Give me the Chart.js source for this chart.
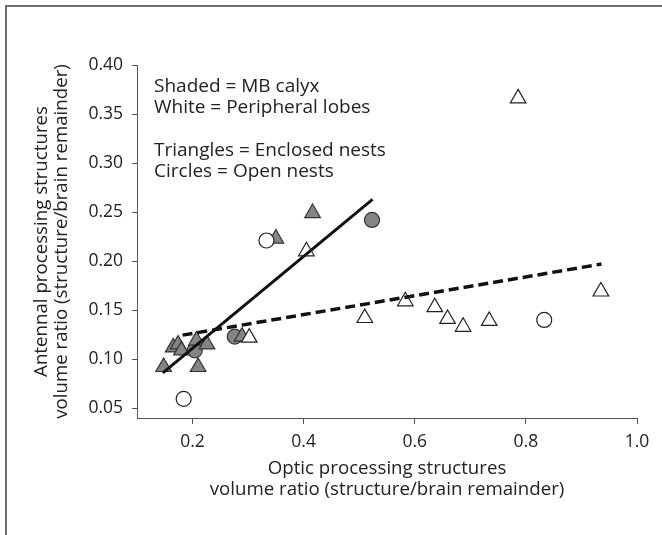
<!DOCTYPE html>
<html>
<head>
<meta charset="utf-8">
<script src="https://cdn.jsdelivr.net/npm/chart.js@4"></script>
<style>
  html, body { margin:0; padding:0; background:#fff; }
  #wrap { position:relative; width:662px; height:535px; }
  #frame { position:absolute; left:5px; top:5px; right:0; bottom:0; border-top:2px solid #6e6e6e; border-left:2px solid #6e6e6e; pointer-events:none; }
</style>
</head>
<body>
<div id="wrap">
  <canvas id="chart" width="662" height="535"></canvas>
  <div id="frame"></div>
</div>
<script>
// shaded = MB calyx, white = peripheral lobes; triangles = enclosed nests, circles = open nests
const shadedTriX = [0.148, 0.165, 0.174, 0.180, 0.207, 0.226, 0.210, 0.289, 0.350, 0.416];
const shadedTriY = [0.092, 0.112, 0.115, 0.109, 0.119, 0.115, 0.092, 0.123, 0.223, 0.249];
const shadedCircX = [0.204, 0.276, 0.523];
const shadedCircY = [0.109, 0.123, 0.242];
const whiteTriX = [0.302, 0.405, 0.510, 0.583, 0.636, 0.659, 0.687, 0.734, 0.786, 0.935];
const whiteTriY = [0.122, 0.210, 0.142, 0.159, 0.153, 0.141, 0.133, 0.139, 0.366, 0.169];
const whiteCircX = [0.184, 0.333, 0.833];
const whiteCircY = [0.0595, 0.221, 0.140];
// regression lines (end points)
const calyxFitX = [0.1465, 0.524];
const calyxFitY = [0.086, 0.263];
const lobesFitX = [0.182, 0.936];
const lobesFitY = [0.1245, 0.197];

const xTicks = [0.2, 0.4, 0.6, 0.8, 1.0];
const yTicks = [0.05, 0.10, 0.15, 0.20, 0.25, 0.30, 0.35, 0.40];
const notes = ['Shaded = MB calyx', 'White = Peripheral lobes', '', 'Triangles = Enclosed nests', 'Circles = Open nests'];

const pts = (xs, ys) => xs.map((x, i) => ({x, y: ys[i]}));
const FONT = '"Open Sans", "Noto Sans", sans-serif';
const TXT = '#222', AX = '#555';

const notesPlugin = {
  id: 'notes',
  afterDraw(chart) {
    const {ctx, chartArea} = chart;
    ctx.save();
    ctx.font = '19px ' + FONT;
    ctx.fillStyle = TXT;
    ctx.textBaseline = 'alphabetic';
    notes.forEach((t, i) => { if (t) ctx.fillText(t, chartArea.left + 17, chartArea.top + 27 + i * 21.25); });
    ctx.restore();
  }
};

new Chart(document.getElementById('chart'), {
  type: 'scatter',
  data: {
    datasets: [
      { label:'MB calyx fit', data: pts(calyxFitX, calyxFitY), showLine:true, borderColor:'#111', borderWidth:3, pointRadius:0, borderCapStyle:'butt' },
      { label:'Peripheral lobes fit', data: pts(lobesFitX, lobesFitY), showLine:true, borderColor:'#111', borderWidth:3.5, borderDash:[10,5], pointRadius:0, borderCapStyle:'butt' },
      { label:'White circles', data: pts(whiteCircX, whiteCircY), pointStyle:'circle', pointRadius:7.5, backgroundColor:'#fff', borderColor:'#222', borderWidth:1.2 },
      { label:'White triangles', data: pts(whiteTriX, whiteTriY), pointStyle:'triangle', pointRadius:9, backgroundColor:'#fff', borderColor:'#222', borderWidth:1.2 },
      { label:'Shaded triangles', data: pts(shadedTriX, shadedTriY), pointStyle:'triangle', pointRadius:9, backgroundColor:'#858585', borderColor:'#333', borderWidth:1.2 },
      { label:'Shaded circles', data: pts(shadedCircX, shadedCircY), pointStyle:'circle', pointRadius:7.5, backgroundColor:'#858585', borderColor:'#333', borderWidth:1.2 }
    ]
  },
  options: {
    responsive:false, animation:false,
    layout: { padding: { top:65, right:25, bottom:0, left:0 } },
    plugins: { legend:{display:false}, tooltip:{enabled:false} },
    scales: {
      x: {
        type:'linear', min:0.1, max:1.0,
        afterBuildTicks: s => { s.ticks = xTicks.map(v => ({value:v})); },
        afterFit: s => { s.height = 117; },
        grid: { drawOnChartArea:false, drawTicks:true, tickLength:6, color:AX },
        border: { display:true, color:AX, width:1 },
        ticks: { color:TXT, font:{family:FONT, size:17.5}, padding:8, maxRotation:0, callback: v => v.toFixed(1) },
        title: { display:true, text:['Optic processing structures', 'volume ratio (structure/brain remainder)'], color:TXT, font:{family:FONT, size:18.7, lineHeight:1.1}, padding:{top:0, bottom:35} }
      },
      y: {
        type:'linear', min:0.04, max:0.40,
        afterBuildTicks: s => { s.ticks = yTicks.map(v => ({value:v})); },
        afterFit: s => { s.width = 137; },
        grid: { drawOnChartArea:false, drawTicks:true, tickLength:5, color:AX },
        border: { display:true, color:AX, width:1 },
        ticks: { color:TXT, font:{family:FONT, size:17.5}, padding:9, callback: v => v.toFixed(2) },
        title: { display:true, text:['Antennal processing structures', 'volume ratio (structure/brain remainder)'], color:TXT, font:{family:FONT, size:18.7, lineHeight:1.1}, padding:{top:31, bottom:0} }
      }
    }
  },
  plugins: [notesPlugin]
});
</script>
</body>
</html>
